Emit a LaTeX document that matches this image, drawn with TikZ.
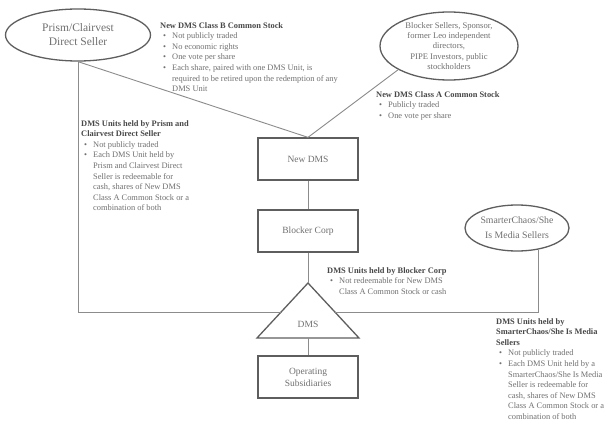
\documentclass[tikz,border=0pt]{standalone}
\usepackage{fontspec}
\setmainfont{Liberation Serif}
\usetikzlibrary{shapes.geometric,calc}
\definecolor{linegray}{HTML}{8C8C8C}
\definecolor{boxgray}{HTML}{5E5E5E}
\definecolor{txtgray}{HTML}{707070}
\definecolor{titlegray}{HTML}{484848}
\newcommand{\mybul}{\makebox[12pt][l]{\hspace{3pt}\textbullet}}
\newcommand{\mycont}{\hspace*{12pt}}
\newcommand{\mytitle}[1]{{\bfseries\color{titlegray}#1}}
\tikzset{
  conn/.style={draw=linegray, line width=0.9pt},
  ellnode/.style={ellipse, draw=boxgray, line width=1.3pt, align=center, inner sep=0pt, text=txtgray},
  boxnode/.style={draw=boxgray, line width=1.3pt, minimum width=100pt, minimum height=42pt, align=center, inner sep=0pt, text=txtgray, font=\fontsize{9.5}{12}\selectfont},
  note/.style={anchor=north west, inner sep=0pt, align=left, text=txtgray, font=\fontsize{8.4}{10.6}\selectfont}
}
\begin{document}
\begin{tikzpicture}[x=1pt,y=-1pt]
\useasboundingbox[fill=white] (0,0) rectangle (616,425);

% ellipses
\node[ellnode, minimum width=145pt, minimum height=52pt, font=\fontsize{11.5}{14}\selectfont] (prism) at (78,35) {Prism/Clairvest\\Direct Seller};
\node[ellnode, minimum width=138pt, minimum height=68pt, font=\fontsize{8.6}{10.3}\selectfont] (bsell) at (449,46) {Blocker Sellers, Sponsor,\\former Leo independent\\directors,\\PIPE Investors, public\\stockholders};
\node[ellnode, minimum width=104pt, minimum height=46pt, font=\fontsize{9.8}{15}\selectfont] (smart) at (517,228) {SmarterChaos/She\\Is Media Sellers};

% boxes
\node[boxnode] (newdms) at (308,159) {New DMS};
\node[boxnode] (blocker) at (308,231) {Blocker Corp};
\node[boxnode] (opsub) at (308,377) {Operating\\Subsidiaries};

% triangle
\coordinate (apex) at (308,283);
\coordinate (bl) at (257,338);
\coordinate (br) at (359,338);
\coordinate (bm) at (308,338);
\draw[draw=boxgray, line width=1.3pt, line join=miter] (apex) -- (br) -- (bl) -- cycle;
\node[text=txtgray, font=\fontsize{9.5}{12}\selectfont] (dms) at (308,324) {DMS};
\coordinate (tleft) at ($(apex)!0.527!(bl)$);
\coordinate (tright) at ($(apex)!0.527!(br)$);

% connectors
\draw[conn] (prism.south) |- (tleft);
\draw[conn] (prism.south) -- (newdms.north);
\draw[conn] (bsell.205) -- (newdms.north);
\draw[conn] (newdms.south) -- (blocker.north);
\draw[conn] (blocker.south) -- (apex);
\draw[conn] (bm) -- (opsub.north);
\draw[conn] (smart.-45) |- (tright);

% notes
\node[note] (noteb) at (160,22) {\mytitle{New DMS Class B Common Stock}\\
\mybul Not publicly traded\\
\mybul No economic rights\\
\mybul One vote per share\\
\mybul Each share, paired with one DMS Unit, is\\
\mycont required to be retired upon the redemption of any\\
\mycont DMS Unit};

\node[note] (notea) at (376,91) {\mytitle{New DMS Class A Common Stock}\\
\mybul Publicly traded\\
\mybul One vote per share};

\node[note] (notep) at (81,120) {\mytitle{DMS Units held by Prism and}\\
\mytitle{Clairvest Direct Seller}\\
\mybul Not publicly traded\\
\mybul Each DMS Unit held by\\
\mycont Prism and Clairvest Direct\\
\mycont Seller is redeemable for\\
\mycont cash, shares of New DMS\\
\mycont Class A Common Stock or a\\
\mycont combination of both};

\node[note] (notec) at (327,267) {\mytitle{DMS Units held by Blocker Corp}\\
\mybul Not redeemable for New DMS\\
\mycont Class A Common Stock or cash};

\node[note] (notes) at (496,318) {\mytitle{DMS Units held by}\\
\mytitle{SmarterChaos/She Is Media}\\
\mytitle{Sellers}\\
\mybul Not publicly traded\\
\mybul Each DMS Unit held by a\\
\mycont SmarterChaos/She Is Media\\
\mycont Seller is redeemable for\\
\mycont cash, shares of New DMS\\
\mycont Class A Common Stock or a\\
\mycont combination of both};
\end{tikzpicture}
\end{document}
